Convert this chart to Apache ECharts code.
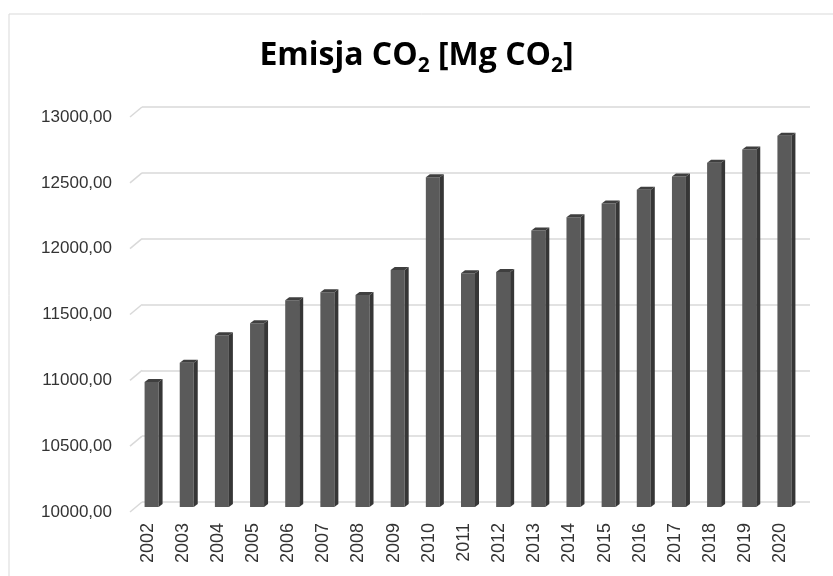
<!DOCTYPE html>
<html>
<head>
<meta charset="utf-8">
<script src="https://cdn.jsdelivr.net/npm/echarts@6/dist/echarts.min.js"></script>
<style>
  html, body { margin: 0; padding: 0; background: #fff; }
  #chart { width: 833px; height: 576px; }
</style>
</head>
<body>
<div id="chart"></div>
<script>
// dane z wykresu
const years = ['2002', '2003', '2004', '2005', '2006', '2007', '2008', '2009', '2010', '2011',
  '2012', '2013', '2014', '2015', '2016', '2017', '2018', '2019', '2020'];
const emissions = [10935, 11080, 11290, 11380, 11555, 11615, 11595, 11785, 12490, 11760,
  11770, 12085, 12185, 12290, 12395, 12495, 12600, 12700, 12805];
const yTicks = [10000, 10500, 11000, 11500, 12000, 12500, 13000];

const yMin = 10000, yMax = 13000;
const fmt = v => v.toFixed(2).replace('.', ',');

// slupek "3D" - przod, bok, gora
const renderBar = (params, api) => {
  const p = api.coord([api.value(0), api.value(1)]);
  const b = api.coord([api.value(0), yMin]);
  const x0 = p[0] - 3, x1 = p[0] + 11, d = 4;
  const yTop = p[1] - 7, yBot = b[1] - 5;
  return {
    type: 'group',
    children: [
      { type: 'rect', shape: { x: x0, y: yTop, width: x1 - x0, height: yBot - yTop },
        style: { fill: '#5a5a5a' } },
      { type: 'polygon', shape: { points: [[x1, yTop], [x1 + d, yTop - 3], [x1 + d, yBot - 3], [x1, yBot]] },
        style: { fill: '#363636' } },
      { type: 'polygon', shape: { points: [[x0, yTop], [x0 + d, yTop - 3], [x1 + d, yTop - 3], [x1, yTop]] },
        style: { fill: '#3f3f3f' } }
    ]
  };
};

// skosne linie podlogi po lewej
const renderSlant = (params, api) => {
  const p = api.coord([0, api.value(0)]);
  const half = api.size([1, 0])[0] / 2;
  const x = p[0] - half;
  return {
    type: 'line',
    shape: { x1: x, y1: p[1], x2: x - 12, y2: p[1] + 10 },
    style: { stroke: '#d9d9d9', lineWidth: 1.5 }
  };
};

const chart = echarts.init(document.getElementById('chart'));

chart.setOption({
  backgroundColor: '#ffffff',
  animation: false,
  graphic: [{
    type: 'rect',
    shape: { x: 9, y: 14, width: 840, height: 580 },
    style: { fill: 'none', stroke: '#d9d9d9', lineWidth: 1 },
    silent: true
  }],
  title: {
    text: '{t|Emisja CO}{s|2}{t| [Mg CO}{s|2}{t|]}',
    left: 'center',
    top: 30,
    textStyle: {
      rich: {
        t: { fontFamily: 'Open Sans', fontWeight: 'bold', fontSize: 32, lineHeight: 42, color: '#000' },
        s: { fontFamily: 'Open Sans', fontWeight: 'bold', fontSize: 21, lineHeight: 21,
             verticalAlign: 'bottom', color: '#000' }
      }
    }
  },
  grid: [
    { left: 142, right: 23, top: 107, bottom: 74 },
    { left: 130, right: 35, top: 117, bottom: 64 }
  ],
  xAxis: [
    { type: 'category', gridIndex: 0, data: years, axisLine: { show: false },
      axisTick: { show: false }, axisLabel: { show: false } },
    { type: 'category', gridIndex: 1, data: years, axisLine: { show: false },
      axisTick: { show: false },
      axisLabel: { rotate: 90, margin: 11, fontFamily: 'Liberation Sans', fontSize: 18, color: '#333' } }
  ],
  yAxis: [
    { type: 'value', gridIndex: 0, min: yMin, max: yMax, interval: 500,
      axisLine: { show: false }, axisTick: { show: false }, axisLabel: { show: false },
      splitLine: { lineStyle: { color: '#d9d9d9', width: 1.5 } } },
    { type: 'value', gridIndex: 1, min: yMin, max: yMax, interval: 500,
      axisLine: { show: false }, axisTick: { show: false }, splitLine: { show: false },
      axisLabel: { margin: 18, formatter: fmt, fontFamily: 'Liberation Sans', fontSize: 17, color: '#333' } }
  ],
  series: [
    { type: 'custom', xAxisIndex: 0, yAxisIndex: 0, renderItem: renderSlant,
      data: yTicks.map(v => [v]), silent: true },
    { type: 'custom', xAxisIndex: 1, yAxisIndex: 1, renderItem: renderBar,
      data: years.map((y, i) => [i, emissions[i]]) }
  ]
});
</script>
</body>
</html>
